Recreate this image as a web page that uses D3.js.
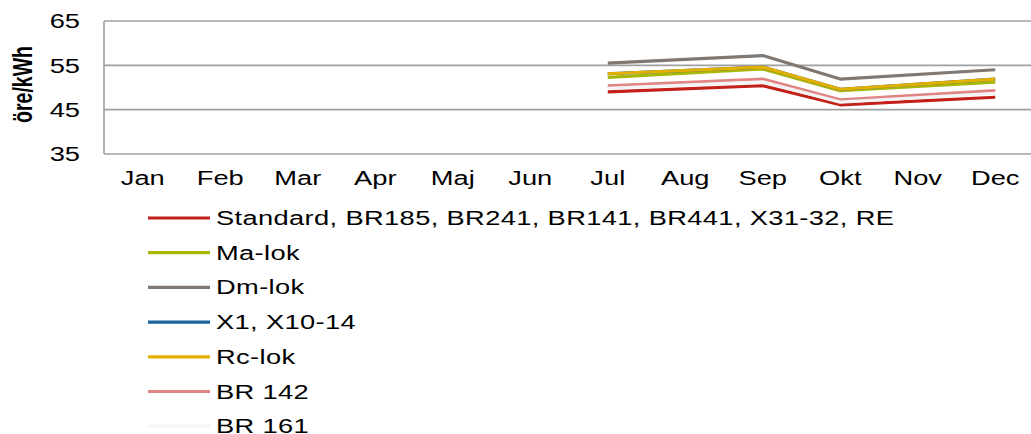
<!DOCTYPE html>
<html>
<head>
<meta charset="UTF-8">
<title>öre/kWh</title>
<style>
  body { margin: 0; background: #fff; }
  svg { font-family: "Liberation Sans", Arial, sans-serif; }
  .axis text { font-size: 19.5px; fill: #000; }
  .axis path, .axis line { stroke: none; }
  .grid line { stroke: #a0a0a0; stroke-width: 1.6; }
  .legend text { font-size: 19.5px; fill: #000; letter-spacing: 0.25px; }
</style>
</head>
<body>
<div id="chart"></div>
<script src="https://d3js.org/d3.v7.min.js"></script>
<script>
// data
const months = ["Jan", "Feb", "Mar", "Apr", "Maj", "Jun", "Jul", "Aug", "Sep", "Okt", "Nov", "Dec"];
const seriesNames = ["Standard, BR185, BR241, BR141, BR441, X31-32, RE", "Ma-lok", "Dm-lok", "X1, X10-14", "Rc-lok", "BR 142", "BR 161"];
const seriesColors = ["#c4201a", "#a8b708", "#807872", "#1a66a0", "#e4b000", "#e08484", "#f4f4f4"];
const standard = [null, null, null, null, null, null, 49.0, null, 50.4, 46.1, null, 47.8];
const maLok    = [null, null, null, null, null, null, 52.3, null, 54.2, 49.3, null, 51.2];
const dmLok    = [null, null, null, null, null, null, 55.5, null, 57.2, 51.9, null, 54.0];
const x1       = [null, null, null, null, null, null, 53.1, null, 54.6, 49.6, null, 51.9];
const rcLok    = [null, null, null, null, null, null, 53.1, null, 54.6, 49.6, null, 51.9];
const br142    = [null, null, null, null, null, null, 50.4, null, 51.9, 47.2, null, 49.3];
const br161    = [null, null, null, null, null, null, 49.8, null, 51.3, 46.7, null, 48.7];
const yTicks = [35, 45, 55, 65];

const seriesValues = [standard, maLok, dmLok, x1, rcLok, br142, br161];

// the original picture is stretched sideways, so text is too
const sx = 1.4;

const width = 1031, height = 434,
  margin = { top: 21, right: -3, bottom: 280, left: 104 },
  plotW = width - margin.left - margin.right,
  plotH = height - margin.top - margin.bottom;

const svg = d3.select("#chart").append("svg")
  .attr("width", width).attr("height", height);

const g = svg.append("g").attr("transform", `translate(${margin.left},${margin.top})`);

const x = d3.scaleBand().domain(months).range([0, plotW]);
const y = d3.scaleLinear().domain([35, 65]).range([plotH, 0]);

// gridlines
g.append("g").attr("class", "grid")
  .selectAll("line").data(yTicks).enter().append("line")
  .attr("x1", 0).attr("x2", plotW + margin.right)
  .attr("y1", d => y(d)).attr("y2", d => y(d));

// left axis line
g.append("line").attr("x1", 0).attr("x2", 0).attr("y1", 0).attr("y2", plotH)
  .attr("stroke", "#a0a0a0").attr("stroke-width", 1.6);

// y axis
g.append("g").attr("class", "axis")
  .attr("transform", "translate(-24,0)")
  .call(d3.axisLeft(y).tickValues(yTicks).tickSize(0).tickPadding(0))
  .selectAll("text").attr("x", 0).attr("dy", "0.35em")
  .attr("transform", `scale(${sx},1)`);

// x axis
g.append("g").attr("class", "axis")
  .attr("transform", `translate(0,${plotH})`)
  .call(d3.axisBottom(x).tickSize(0).tickPadding(17))
  .selectAll("text").attr("transform", `scale(${sx},1)`);

// y label
svg.append("text")
  .attr("transform", `translate(22,${margin.top + plotH / 2 - 3}) scale(${sx},1) rotate(-90)`)
  .attr("text-anchor", "middle")
  .attr("dy", "0.35em")
  .attr("font-size", 19.5).attr("font-weight", "bold")
  .text("öre/kWh");

// lines
const line = d3.line()
  .x(d => x(d.m) + x.bandwidth() / 2)
  .y(d => y(d.v));

seriesValues.forEach((vals, i) => {
  const pts = months.map((m, j) => ({ m, v: vals[j] })).filter(d => d.v != null);
  g.append("path").datum(pts)
    .attr("fill", "none")
    .attr("stroke", seriesColors[i])
    .attr("stroke-width", 3.2)
    .attr("stroke-linejoin", "round")
    .attr("d", line);
});

// legend
const legend = svg.append("g").attr("class", "legend")
  .attr("transform", "translate(148,218)");
const rows = legend.selectAll("g").data(seriesNames).enter().append("g")
  .attr("transform", (d, i) => `translate(0,${i * 34.7})`);
rows.append("line").attr("x1", 0).attr("x2", 62)
  .attr("stroke", (d, i) => seriesColors[i]).attr("stroke-width", 3.2);
rows.append("text")
  .attr("transform", `translate(68,0) scale(${sx},1)`)
  .attr("dy", "0.36em").text(d => d);
</script>
</body>
</html>
